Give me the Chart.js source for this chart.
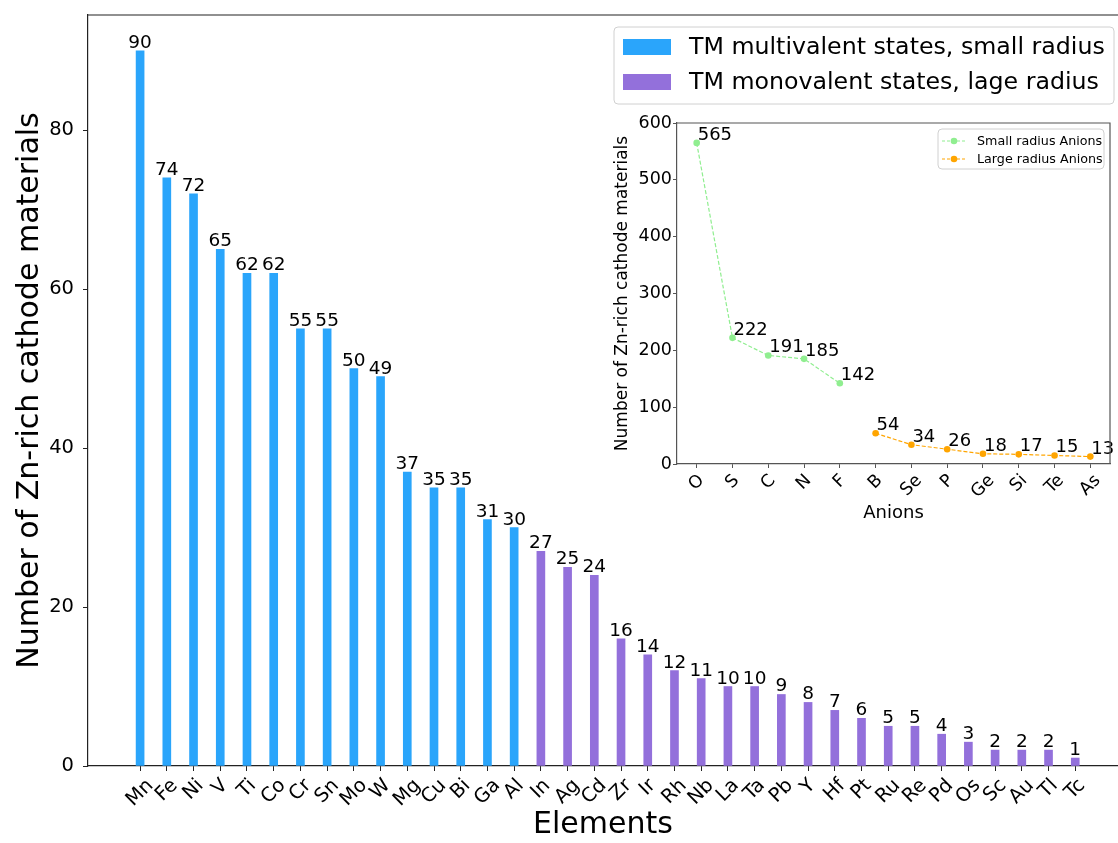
<!DOCTYPE html>
<html>
<head>
<meta charset="utf-8">
<script src="https://cdn.jsdelivr.net/npm/chart.js@4"></script>
<style>
  html, body { margin: 0; padding: 0; background: #fff; overflow: hidden; }
  #wrap { position: relative; width: 1118px; height: 843px; }
  #main { position: absolute; left: 0; top: 0; }
  #inset { position: absolute; left: 600px; top: 105px; }
</style>
</head>
<body>
<div id="wrap">
  <canvas id="main" width="1118" height="843"></canvas>
  <canvas id="inset" width="518" height="430"></canvas>
</div>
<script>
// main chart data
const multiElements = ['Mn', 'Fe', 'Ni', 'V', 'Ti', 'Co', 'Cr', 'Sn', 'Mo', 'W', 'Mg', 'Cu', 'Bi', 'Ga', 'Al'];
const multiCounts = [90, 74, 72, 65, 62, 62, 55, 55, 50, 49, 37, 35, 35, 31, 30];
const monoElements = ['In', 'Ag', 'Cd', 'Zr', 'Ir', 'Rh', 'Nb', 'La', 'Ta', 'Pb', 'Y', 'Hf', 'Pt', 'Ru', 'Re', 'Pd', 'Os', 'Sc', 'Au', 'Tl', 'Tc'];
const monoCounts = [27, 25, 24, 16, 14, 12, 11, 10, 10, 9, 8, 7, 6, 5, 5, 4, 3, 2, 2, 2, 1];
const mainYTicks = [0, 20, 40, 60, 80];

// inset data
const smallAnions = ['O', 'S', 'C', 'N', 'F'];
const smallCounts = [565, 222, 191, 185, 142];
const largeAnions = ['B', 'Se', 'P', 'Ge', 'Si', 'Te', 'As'];
const largeCounts = [54, 34, 26, 18, 17, 15, 13];
const insetYTicks = [0, 100, 200, 300, 400, 500, 600];

const allElements = multiElements.concat(monoElements);
const allAnions = smallAnions.concat(largeAnions);

const blue = '#2aa5fb';
const purple = '#9370db';
const green = '#90ee90';
const orange = '#ffa500';
const FONT = "'DejaVu Sans', sans-serif";

Chart.defaults.font.family = FONT;
Chart.defaults.color = '#000';
Chart.defaults.animation = false;

// value labels drawn above bars / beside points
const valueLabels = {
    id: 'valueLabels',
    afterDatasetsDraw(chart, args, opts) {
        const ctx = chart.ctx;
        ctx.save();
        ctx.font = opts.size + 'px ' + FONT;
        ctx.fillStyle = '#000';
        ctx.textBaseline = 'alphabetic';
        chart.data.datasets.forEach(function (ds, di) {
            chart.getDatasetMeta(di).data.forEach(function (el, i) {
                const v = ds.data[i].y;
                if (opts.mode === 'bar') {
                    ctx.textAlign = 'center';
                    ctx.fillText(v, el.x, el.y - 3);
                } else {
                    ctx.textAlign = 'left';
                    ctx.fillText(v, el.x + 1, el.y - 3);
                }
            });
        });
        ctx.restore();
    }
};

// x labels turned 45 degrees, box centred under the tick (like matplotlib)
const rotatedLabels = {
    id: 'rotatedLabels',
    afterDraw(chart, args, opts) {
        const ctx = chart.ctx;
        const scale = chart.scales.x;
        ctx.save();
        ctx.font = opts.size + 'px ' + FONT;
        ctx.fillStyle = '#000';
        ctx.textAlign = 'center';
        ctx.textBaseline = 'middle';
        const h = opts.size * 1.1;
        opts.labels.forEach(function (txt, i) {
            const w = ctx.measureText(txt).width;
            const half = (w + h) / (2 * Math.SQRT2);
            const cx = scale.getPixelForValue(i);
            const cy = chart.chartArea.bottom + opts.gap + half;
            ctx.save();
            ctx.translate(cx, cy);
            ctx.rotate(-Math.PI / 4);
            ctx.fillText(txt, 0, 0);
            ctx.restore();
        });
        ctx.restore();
    }
};

// spines that chart.js does not draw by itself
const frame = {
    id: 'frame',
    afterDraw(chart, args, opts) {
        const a = chart.chartArea;
        const ctx = chart.ctx;
        ctx.save();
        ctx.strokeStyle = opts.color;
        ctx.lineWidth = 1.2;
        ctx.beginPath();
        ctx.moveTo(a.left, a.top);
        ctx.lineTo(a.right, a.top);
        if (opts.right) {
            ctx.lineTo(a.right, a.bottom);
        }
        ctx.stroke();
        ctx.restore();
    }
};

// legend box drawn inside the plot
const boxLegend = {
    id: 'boxLegend',
    afterDraw(chart, args, opts) {
        const ctx = chart.ctx;
        ctx.save();
        ctx.fillStyle = 'rgba(255,255,255,0.8)';
        ctx.strokeStyle = '#d0d0d0';
        ctx.lineWidth = 1;
        ctx.beginPath();
        ctx.roundRect(opts.x, opts.y, opts.w, opts.h, 4);
        ctx.fill();
        ctx.stroke();
        ctx.font = opts.size + 'px ' + FONT;
        ctx.textAlign = 'left';
        ctx.textBaseline = 'middle';
        opts.items.forEach(function (it, i) {
            const cy = opts.y + opts.first + i * opts.gap;
            if (opts.kind === 'patch') {
                ctx.fillStyle = it.color;
                ctx.fillRect(opts.x + 9, cy - 8, 48, 16);
            } else {
                ctx.strokeStyle = it.color;
                ctx.lineWidth = 1;
                ctx.setLineDash([3, 2]);
                ctx.beginPath();
                ctx.moveTo(opts.x + 4, cy);
                ctx.lineTo(opts.x + 28, cy);
                ctx.stroke();
                ctx.setLineDash([]);
                ctx.fillStyle = it.color;
                ctx.beginPath();
                ctx.arc(opts.x + 16, cy, 3.3, 0, Math.PI * 2);
                ctx.fill();
            }
            ctx.fillStyle = '#000';
            ctx.fillText(it.text, opts.x + opts.textX, cy + 1);
        });
        ctx.restore();
    }
};

function toPoints(offset, values) {
    return values.map(function (v, i) {
        return { x: offset + i, y: v };
    });
}

function noEdgePadding(scale) {
    scale.paddingTop = 0;
    scale.paddingBottom = 0;
    scale.paddingLeft = 0;
    scale.paddingRight = 0;
}

new Chart(document.getElementById('main'), {
    type: 'bar',
    data: {
        datasets: [
            {
                label: 'TM multivalent states, small radius',
                data: toPoints(0, multiCounts),
                backgroundColor: blue,
                barThickness: 8,
                grouped: false
            },
            {
                label: 'TM monovalent states, lage radius',
                data: toPoints(multiCounts.length, monoCounts),
                backgroundColor: purple,
                barThickness: 8,
                grouped: false
            }
        ]
    },
    options: {
        responsive: false,
        layout: { padding: { top: 15, right: 0, left: 0, bottom: 0 } },
        plugins: {
            legend: { display: false },
            tooltip: { enabled: false },
            valueLabels: { mode: 'bar', size: 18.5 },
            rotatedLabels: { size: 19.5, gap: 9, labels: allElements },
            frame: { color: '#222', right: false },
            boxLegend: {
                kind: 'patch', x: 614, y: 27, w: 500, h: 77, size: 23.7,
                first: 20, gap: 35, textX: 75,
                items: [
                    { color: blue, text: 'TM multivalent states, small radius' },
                    { color: purple, text: 'TM monovalent states, lage radius' }
                ]
            }
        },
        scales: {
            x: {
                type: 'linear',
                offset: false,
                min: -1.95,
                max: 36.6,
                afterBuildTicks: function (scale) {
                    scale.ticks = allElements.map(function (e, i) { return { value: i }; });
                },
                afterFit: function (scale) { scale.height = 77; noEdgePadding(scale); },
                ticks: { display: false },
                grid: { offset: false, drawOnChartArea: false, drawTicks: true, tickLength: 5, color: '#222' },
                border: { display: true, color: '#222', width: 1.2 },
                title: { display: true, text: 'Elements', font: { size: 30 }, padding: { top: 0, bottom: 0 } }
            },
            y: {
                min: 0,
                max: 94.5,
                afterBuildTicks: function (scale) {
                    scale.ticks = mainYTicks.map(function (v) { return { value: v }; });
                },
                afterFit: function (scale) { scale.width = 88; noEdgePadding(scale); },
                ticks: { font: { size: 19.5 }, padding: 9 },
                grid: { drawOnChartArea: false, drawTicks: true, tickLength: 5, color: '#222' },
                border: { display: true, color: '#222', width: 1.2 },
                title: { display: true, text: 'Number of Zn-rich cathode materials', font: { size: 30 }, padding: { top: 12, bottom: 0 } }
            }
        }
    },
    plugins: [valueLabels, rotatedLabels, frame, boxLegend]
});

new Chart(document.getElementById('inset'), {
    type: 'line',
    data: {
        datasets: [
            {
                label: 'Small radius Anions',
                data: toPoints(0, smallCounts),
                borderColor: green,
                backgroundColor: green,
                borderWidth: 1.2,
                borderDash: [4, 2],
                pointRadius: 3.3,
                pointBorderWidth: 0
            },
            {
                label: 'Large radius Anions',
                data: toPoints(smallCounts.length, largeCounts),
                borderColor: orange,
                backgroundColor: orange,
                borderWidth: 1.2,
                borderDash: [4, 2],
                pointRadius: 3.3,
                pointBorderWidth: 0
            }
        ]
    },
    options: {
        responsive: false,
        layout: { padding: { top: 18, right: 8, left: 0, bottom: 0 } },
        plugins: {
            legend: { display: false },
            tooltip: { enabled: false },
            valueLabels: { mode: 'point', size: 18 },
            rotatedLabels: { size: 17.5, gap: 7, labels: allAnions },
            frame: { color: '#555', right: true },
            boxLegend: {
                kind: 'line', x: 338, y: 24, w: 166, h: 40, size: 12.7,
                first: 12, gap: 18, textX: 39,
                items: [
                    { color: green, text: 'Small radius Anions' },
                    { color: orange, text: 'Large radius Anions' }
                ]
            }
        },
        scales: {
            x: {
                type: 'linear',
                offset: false,
                min: -0.55,
                max: 11.55,
                afterBuildTicks: function (scale) {
                    scale.ticks = allAnions.map(function (a, i) { return { value: i }; });
                },
                afterFit: function (scale) { scale.height = 71; noEdgePadding(scale); },
                ticks: { display: false },
                grid: { offset: false, drawOnChartArea: false, drawTicks: true, tickLength: 4, color: '#555' },
                border: { display: true, color: '#555', width: 1.2 },
                title: { display: true, text: 'Anions', font: { size: 18 }, padding: { top: 0, bottom: 11 } }
            },
            y: {
                min: 0,
                max: 600,
                afterBuildTicks: function (scale) {
                    scale.ticks = insetYTicks.map(function (v) { return { value: v }; });
                },
                afterFit: function (scale) { scale.width = 77; noEdgePadding(scale); },
                ticks: { font: { size: 17.5 }, padding: 1 },
                grid: { drawOnChartArea: false, drawTicks: true, tickLength: 4, color: '#555' },
                border: { display: true, color: '#555', width: 1.2 },
                title: { display: true, text: 'Number of Zn-rich cathode materials', font: { size: 17 }, padding: { top: 12, bottom: 0 } }
            }
        }
    },
    plugins: [valueLabels, rotatedLabels, frame, boxLegend]
});
</script>
</body>
</html>
